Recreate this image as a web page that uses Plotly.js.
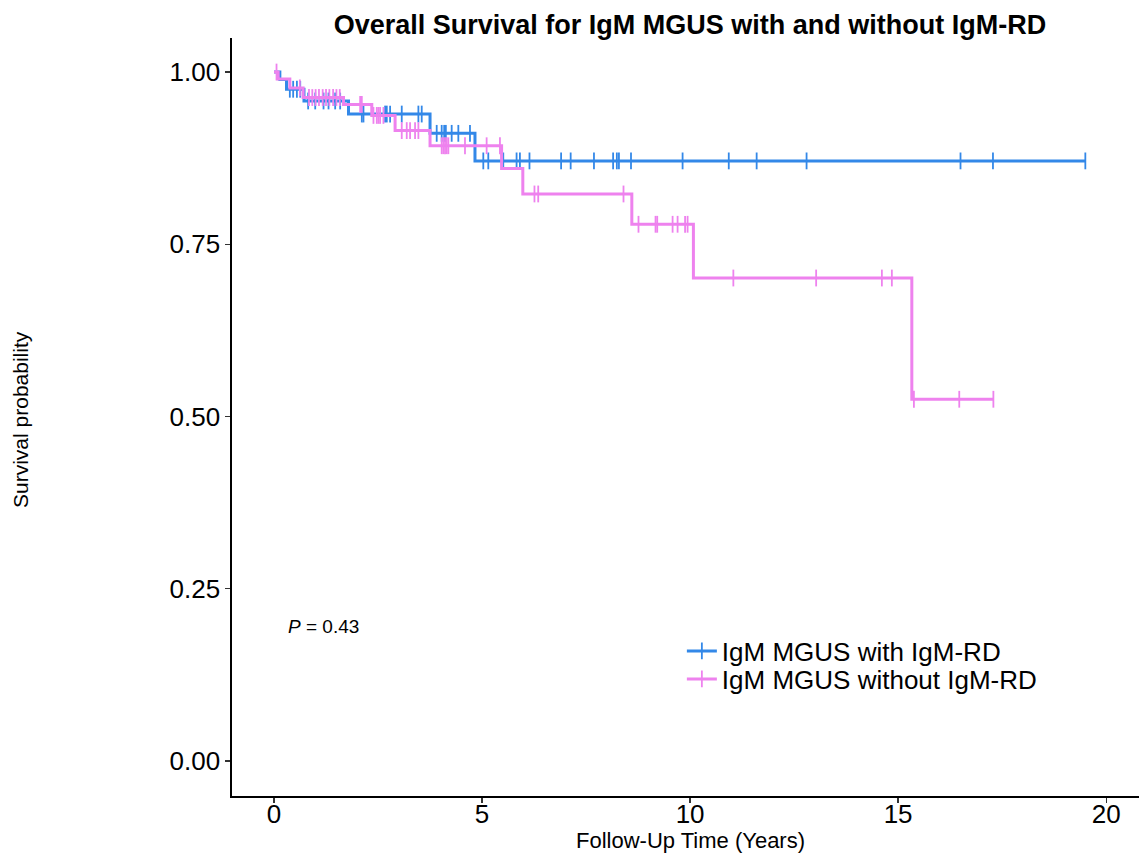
<!DOCTYPE html>
<html>
<head>
<meta charset="utf-8">
<script src="https://cdn.plot.ly/plotly-3.0.1.min.js"></script>
<style>html,body{margin:0;padding:0;background:#fff;}#chart{width:1139px;height:854px;}</style>
</head>
<body>
<div id="chart"></div>
<script>
// Group names
const groupNames = ["IgM MGUS with IgM-RD", "IgM MGUS without IgM-RD"];

// IgM MGUS with IgM-RD: step change times and survival
const stepTimeWith = [0, 0.14, 0.30, 0.72, 1.79, 3.75, 4.83, 19.5];
const stepSurvWith = [1.000, 0.989, 0.975, 0.958, 0.939, 0.911, 0.871, 0.871];
const censorWith = [0.38, 0.46, 0.55, 0.63, 0.82, 0.99, 1.19, 1.31, 1.47, 1.59,
  2.11, 2.15, 2.67, 2.71, 2.79, 3.07, 3.47, 3.55,
  3.91, 4.03, 4.09, 4.13, 4.27, 4.43, 4.71,
  5.03, 5.15, 5.51, 5.83, 5.91, 6.14, 6.90, 7.13, 7.69, 8.15, 8.24, 8.29, 8.58,
  9.82, 10.93, 11.60, 12.80, 16.50, 17.28, 19.50];

// IgM MGUS without IgM-RD
const stepTimeWithout = [0, 0.10, 0.38, 0.70, 1.67, 2.35, 2.91, 3.75, 5.47, 5.98, 8.60, 10.08, 15.33, 17.29];
const stepSurvWithout = [1.000, 0.990, 0.977, 0.963, 0.953, 0.937, 0.915, 0.893, 0.860, 0.823, 0.779, 0.701, 0.525, 0.525];
const censorWithout = [0.06, 0.62, 0.84, 0.92, 1.00, 1.08, 1.17, 1.25, 1.33, 1.42, 1.50, 1.58,
  2.07, 2.11, 2.39, 2.47, 2.51, 2.55, 2.63,
  3.07, 3.19, 3.27, 3.39, 3.47,
  4.03, 4.07, 4.11, 4.15, 4.19, 4.59, 5.11, 5.43,
  6.26, 6.35, 8.40, 8.76, 9.17, 9.21, 9.58, 9.70, 9.88, 9.94,
  11.04, 13.03, 14.61, 14.85, 15.38, 16.47, 17.29];

const xTicks = [0, 5, 10, 15, 20];
const yTicks = [0, 0.25, 0.5, 0.75, 1.0];
const pValueText = "<i>P</i> = 0.43";

const colors = ["#3388E8", "#EE82EE"];

function survAt(times, surv, t) {
  let s = surv[0];
  for (let i = 0; i < times.length; i++) { if (times[i] <= t) s = surv[i]; }
  return s;
}

const groups = [
  {t: stepTimeWith, s: stepSurvWith, c: censorWith},
  {t: stepTimeWithout, s: stepSurvWithout, c: censorWithout}
];

const traces = [];
groups.forEach((g, i) => {
  traces.push({
    x: g.t, y: g.s, mode: 'lines', type: 'scatter',
    line: {shape: 'hv', color: colors[i], width: 3},
    showlegend: false, hoverinfo: 'skip'
  });
  traces.push({
    x: g.c, y: g.c.map(t => survAt(g.t, g.s, t)), mode: 'markers', type: 'scatter',
    marker: {symbol: 'line-ns', size: 12, color: colors[i], line: {color: colors[i], width: 1.8}},
    showlegend: false, hoverinfo: 'skip'
  });
});
const legendIds = ['legend', 'legend2'];
groups.forEach((g, i) => {
  traces.push({
    x: [null], y: [null], mode: 'lines+markers', type: 'scatter', name: groupNames[i],
    legend: legendIds[i],
    line: {color: colors[i], width: 3},
    marker: {symbol: 'line-ns', size: 12, color: colors[i], line: {color: colors[i], width: 1.8}}
  });
});

const font = "Liberation Sans, Arial, sans-serif";
const legendBase = {x: 0.496, xanchor: 'left', yanchor: 'middle', bgcolor: 'rgba(0,0,0,0)',
  font: {size: 26, color: '#000', family: font}};
const layout = {
  width: 1139, height: 854,
  margin: {l: 232, r: 0, t: 38, b: 58},
  paper_bgcolor: '#fff', plot_bgcolor: '#fff',
  font: {family: font, color: '#000'},
  title: {text: "<b>Overall Survival for IgM MGUS with and without IgM-RD</b>",
    font: {family: font, size: 27, color: '#000'},
    x: 0.505, xref: 'paper', xanchor: 'center', y: 0.971, yref: 'container', yanchor: 'middle'},
  xaxis: {
    range: [-1.01, 20.79], tickvals: xTicks, ticktext: xTicks.map(String),
    showgrid: false, zeroline: false, showline: true, linecolor: '#000', linewidth: 1.6,
    ticks: 'outside', ticklen: 5, tickwidth: 1.2, tickcolor: '#333',
    ticklabelstandoff: -11,
    tickfont: {size: 26, color: '#000', family: font}
  },
  yaxis: {
    range: [-0.0509, 1.0494], tickvals: yTicks, ticktext: yTicks.map(v => v.toFixed(2)),
    showgrid: false, zeroline: false, showline: true, linecolor: '#000', linewidth: 1.6,
    ticks: 'outside', ticklen: 5, tickwidth: 1.2, tickcolor: '#333',
    tickfont: {size: 26, color: '#000', family: font}
  },
  legend: Object.assign({}, legendBase, {y: 1 - (651 - 38) / 758}),
  legend2: Object.assign({}, legendBase, {y: 1 - (679 - 38) / 758}),
  annotations: [
    {text: "Survival probability", xref: 'paper', yref: 'paper', x: -(232 - 20) / 907, y: 1 - (420 - 38) / 758,
     xanchor: 'center', yanchor: 'middle',
     textangle: -90, showarrow: false, font: {size: 21, color: '#000', family: font}},
    {text: "Follow-Up Time (Years)", xref: 'paper', yref: 'paper', x: 0.505, y: -(841 - 796) / 758,
     xanchor: 'center', yanchor: 'middle', showarrow: false, font: {size: 22, color: '#000', family: font}},
    {text: pValueText, xref: 'paper', yref: 'paper', x: 0.101, y: 1 - (626 - 38) / 758, xanchor: 'center', yanchor: 'middle',
     showarrow: false, font: {size: 19, color: '#000', family: font}}
  ]
};

Plotly.newPlot('chart', traces, layout, {displayModeBar: false, staticPlot: true});
</script>
</body>
</html>
